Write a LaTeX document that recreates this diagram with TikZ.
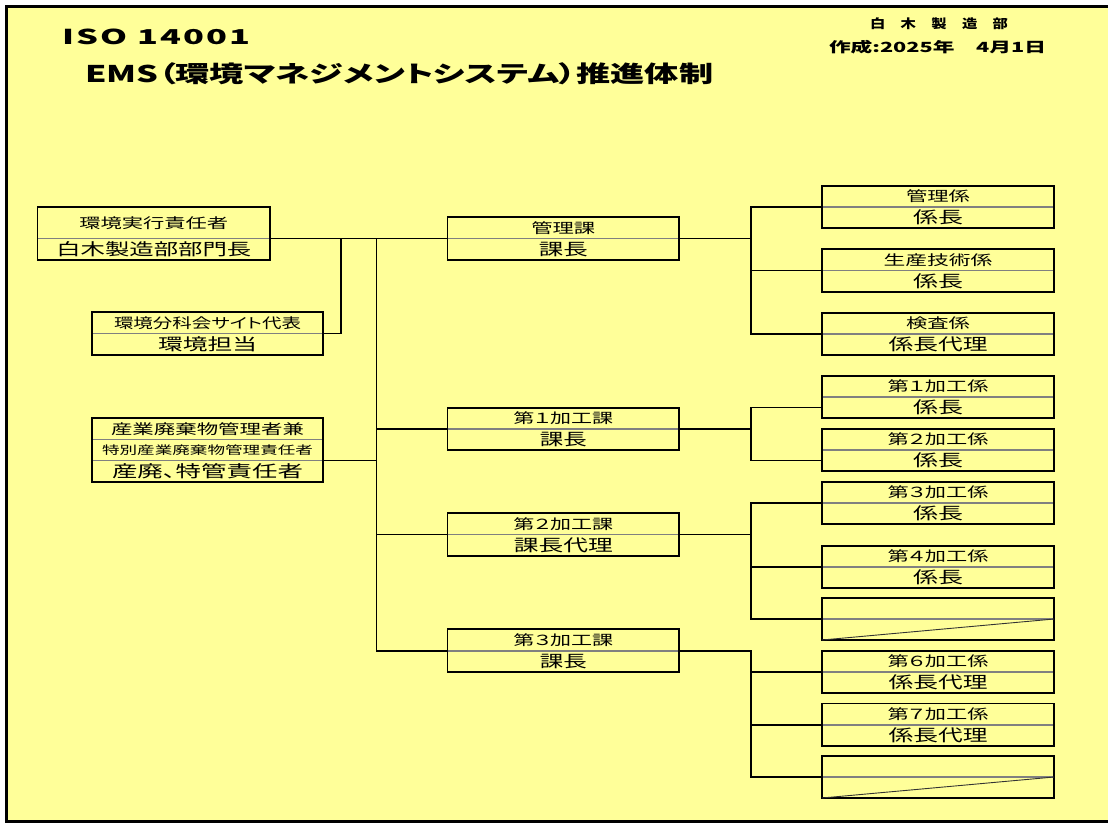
\documentclass[tikz,border=0pt]{standalone}
\usepackage{fontspec}
\usepackage{graphicx}
\newfontfamily\jp{Noto Sans CJK JP}[RawFeature=+palt]
\newfontfamily\jpls{Noto Sans CJK JP}[RawFeature=+palt,LetterSpace=6]
\definecolor{bgy}{HTML}{FFFF99}
\definecolor{divc}{HTML}{808080}
\newcommand\fitw[3]{{#1\setbox0=\hbox{#3}\pgfmathsetmacro\fitr{#2/\the\wd0}\scalebox{\fitr}[1]{\box0}}}
\newcommand\tS{\jp\fontsize{14}{16}\selectfont}
\newcommand\tB{\jp\fontsize{16.5}{18}\selectfont}
\newcommand\tT{\jp\fontsize{11.5}{13}\selectfont}
\newcommand\orgbox[8]{%
  \node[rowcell,minimum width=#4pt,minimum height=#5pt,anchor=north west] (#1-t) at (#2,#3) {#7};
  \node[rowcell,minimum width=#4pt,minimum height=#6pt,anchor=north] (#1-b) at (#1-t.south) {#8};
  \draw[divline] (#1-t.south west) -- (#1-t.south east);
  \draw[boxline] (#1-t.north west) rectangle (#1-b.south east);
}
\begin{document}
\begin{tikzpicture}[x=1pt,y=-1pt,
  rowcell/.style={inner sep=0pt,outer sep=0pt},
  divline/.style={draw=divc,line width=1.5pt},
  boxline/.style={draw=black,line width=1.6pt},
  conn/.style={draw=black,line width=1.4pt},
  diag/.style={draw=black!80,line width=0.9pt}]
\useasboundingbox (0,0) rectangle (1108,823);
\fill[white] (0,0) rectangle (1108,823);
\fill[bgy] (6.5,6.5) rectangle (1108,821.5);
\draw[line width=2.6pt] (1108,6.5) -- (6.5,6.5) -- (6.5,821.5) -- (1108,821.5);

% titles
\node[anchor=west,inner sep=0pt] (title1) at (62,36.7) {\fitw{\jpls\bfseries\fontsize{20.5}{22}\selectfont}{188}{ISO 14001}};
\node[anchor=west,inner sep=0pt] (title2) at (85,73.3) {\fitw{\jp\bfseries\fontsize{23}{25}\selectfont}{628}{EMS（環境マネジメントシステム）推進体制}};
\node[inner sep=0pt] (dept) at (939,23.8) {\fitw{\jp\bfseries\fontsize{12.5}{14}\selectfont}{138}{白　木　製　造　部}};
\node[inner sep=0pt] (date) at (937.5,46.7) {\fitw{\jp\bfseries\fontsize{14}{16}\selectfont}{217}{作成:2025年　4月1日}};

% left column
\orgbox{jikkou}{37.5}{207}{232.5}{31.5}{21.5}{\fitw\tS{149}{環境実行責任者}}{\fitw\tB{195}{白木製造部部門長}}
\orgbox{bunka}{92}{312}{231}{21.5}{21.5}{\fitw\tS{187}{環境分科会サイト代表}}{\fitw\tB{99}{環境担当}}
\node[rowcell,minimum width=231pt,minimum height=21.33pt,anchor=north west] (sanpai-t) at (92,418) {\fitw\tS{193}{産業廃棄物管理者兼}};
\node[rowcell,minimum width=231pt,minimum height=21.33pt,anchor=north] (sanpai-m) at (sanpai-t.south) {\fitw\tT{211}{特別産業廃棄物管理責任者}};
\node[rowcell,minimum width=231pt,minimum height=21.33pt,anchor=north] (sanpai-b) at (sanpai-m.south) {\fitw\tB{191}{産廃、特管責任者}};
\draw[divline] (sanpai-t.south west) -- (sanpai-t.south east);
\draw[divline] (sanpai-m.south west) -- (sanpai-m.south east);
\draw[boxline] (sanpai-t.north west) rectangle (sanpai-b.south east);

% middle column
\orgbox{kanri}{447.5}{217}{231.5}{21.5}{21.5}{\fitw\tS{64}{管理課}}{\fitw\tB{49}{課長}}
\orgbox{ka1}{447.5}{408}{231.5}{21}{21}{\fitw\tS{100}{第１加工課}}{\fitw\tB{47}{課長}}
\orgbox{ka2}{447.5}{513}{231.5}{21.5}{21.5}{\fitw\tS{100}{第２加工課}}{\fitw\tB{99}{課長代理}}
\orgbox{ka3}{447.5}{629}{231.5}{22}{21}{\fitw\tS{100}{第３加工課}}{\fitw\tB{47}{課長}}

% right column
\orgbox{kk1}{822}{186}{232}{21}{21}{\fitw\tS{64}{管理係}}{\fitw\tB{50}{係長}}
\orgbox{kk2}{822}{249}{232}{21.5}{21.5}{\fitw\tS{109}{生産技術係}}{\fitw\tB{50}{係長}}
\orgbox{kk3}{822}{313}{232}{21}{21}{\fitw\tS{64}{検査係}}{\fitw\tB{99}{係長代理}}
\orgbox{k1}{822}{376}{232}{21}{21}{\fitw\tS{101}{第１加工係}}{\fitw\tB{50}{係長}}
\orgbox{k2}{822}{429}{232}{21}{21}{\fitw\tS{101}{第２加工係}}{\fitw\tB{50}{係長}}
\orgbox{k3}{822}{482}{232}{21}{21}{\fitw\tS{101}{第３加工係}}{\fitw\tB{50}{係長}}
\orgbox{k4}{822}{546}{232}{21}{21}{\fitw\tS{101}{第４加工係}}{\fitw\tB{50}{係長}}
\orgbox{k5}{822}{598}{232}{21}{21}{}{}
\orgbox{k6}{822}{651}{232}{21}{21}{\fitw\tS{101}{第６加工係}}{\fitw\tB{99}{係長代理}}
\orgbox{k7}{822}{703.5}{232}{21.5}{21}{\fitw\tS{101}{第７加工係}}{\fitw\tB{99}{係長代理}}
\orgbox{k8}{822}{756}{232}{21}{21}{}{}
\draw[diag] (k5-b.south west) -- (k5-b.north east);
\draw[diag] (k8-b.south west) -- (k8-b.north east);

% connectors
\coordinate (busA) at (341,238.5);
\coordinate (busL) at (376.5,238.5);
\coordinate (busR) at (751,0);
\draw[conn] (jikkou-t.south east) -- (kanri-t.south west);
\draw[conn] (bunka-t.south east) -| (busA);
\draw[conn] (busL) |- (ka3-t.south west);
\draw[conn] (ka1-t.south west) -- (ka1-t.south west -| busL);
\draw[conn] (ka2-t.south west) -- (ka2-t.south west -| busL);
\draw[conn] (sanpai-m.south east) -- (sanpai-m.south east -| busL);

\draw[conn] (kanri-t.south east) -- (kanri-t.south east -| busR);
\draw[conn] (kk1-t.south west) -| (busR |- kk3-t.south west) -- (kk3-t.south west);
\draw[conn] (kk2-t.south west) -- (kk2-t.south west -| busR);

\draw[conn] (ka1-t.south east) -- (ka1-t.south east -| busR);
\draw[conn] (k1-b.west) -| (busR |- k2-b.west) -- (k2-b.west);

\draw[conn] (ka2-t.south east) -- (ka2-t.south east -| busR);
\draw[conn] (k3-t.south west) -| (busR |- k5-t.south west) -- (k5-t.south west);
\draw[conn] (k4-t.south west) -- (k4-t.south west -| busR);

\draw[conn] (ka3-t.south east) -| (busR |- k8-t.south west) -- (k8-t.south west);
\draw[conn] (k6-t.south west) -- (k6-t.south west -| busR);
\draw[conn] (k7-t.south west) -- (k7-t.south west -| busR);
\end{tikzpicture}
\end{document}
